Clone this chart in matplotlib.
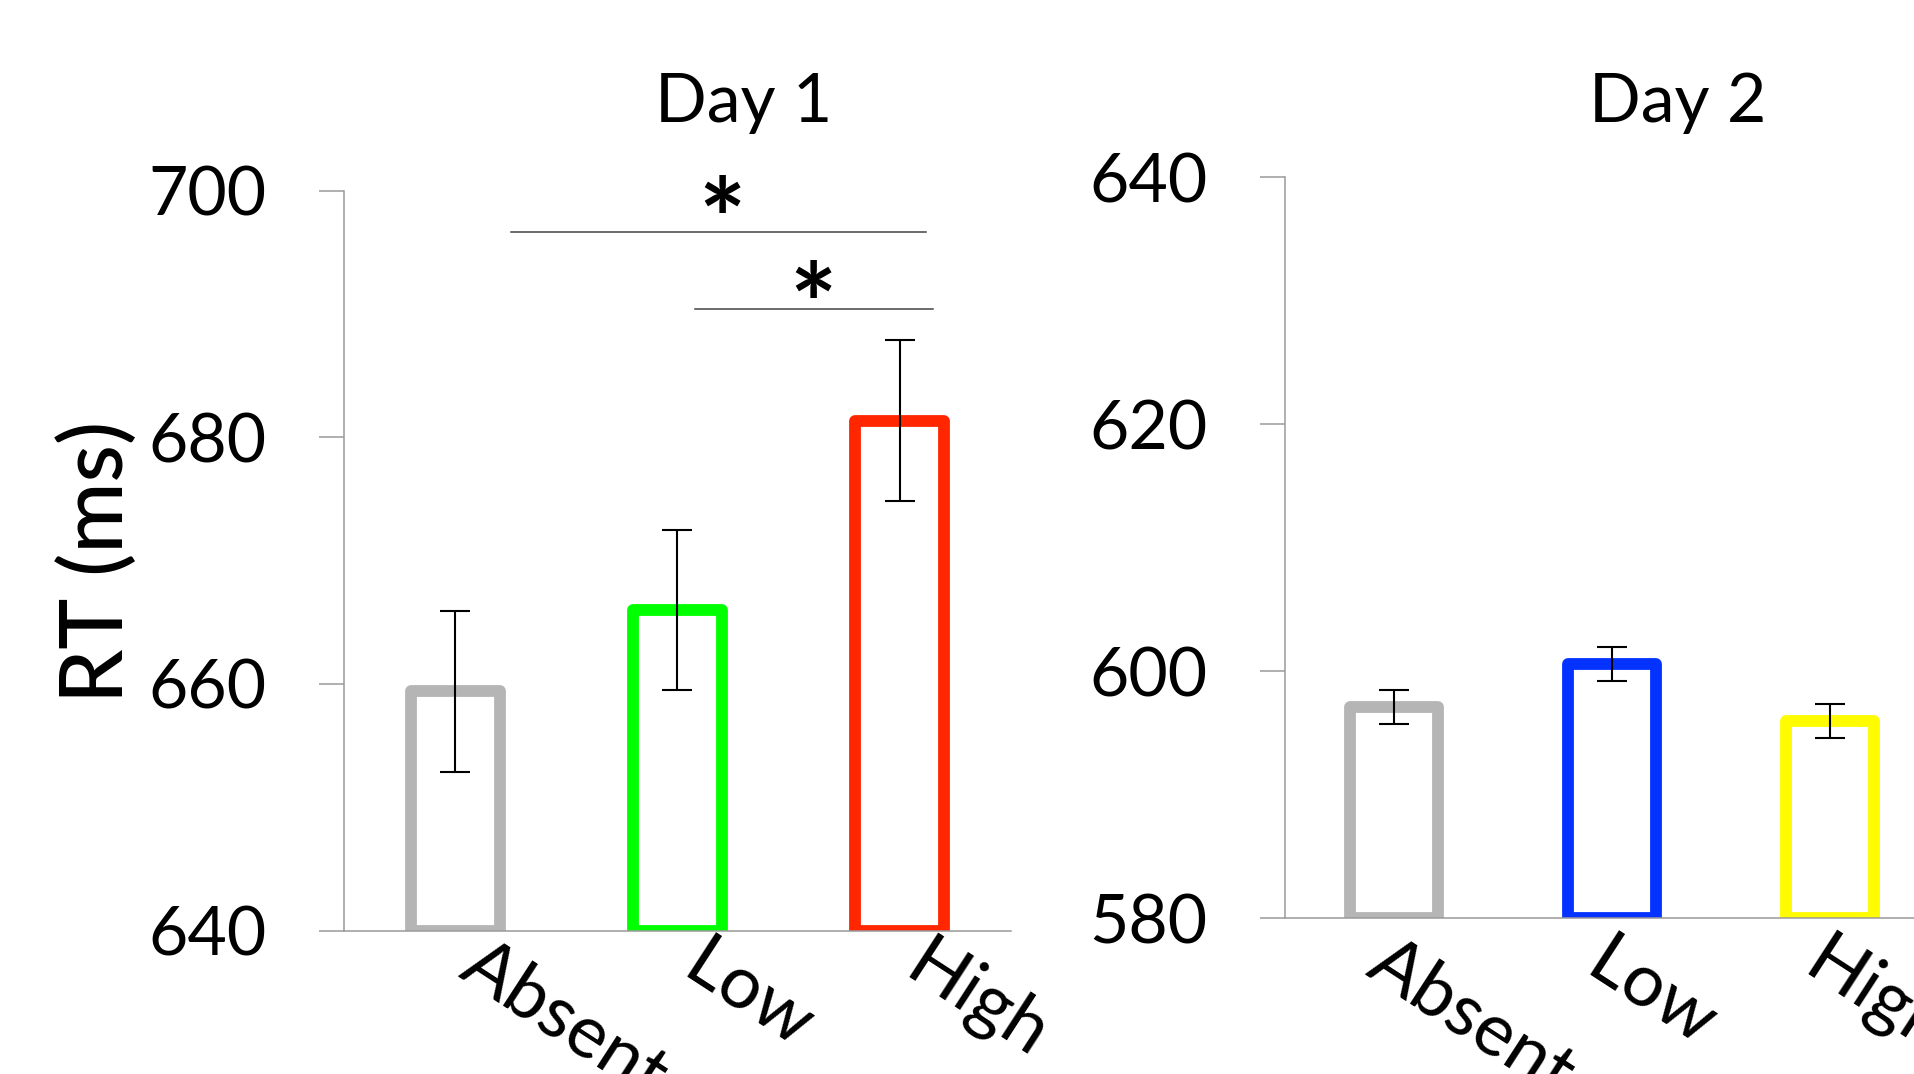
import matplotlib
matplotlib.use('Agg')
import matplotlib.pyplot as plt
import numpy as np

plt.rcParams['font.family'] = ['Lato', 'DejaVu Sans']

# 数据
conditions = ['Absent', 'Low', 'High']
day1_rt = [659.4, 666.0, 681.35]
day1_err = [6.5, 6.5, 6.5]
day2_rt = [597.1, 600.6, 596.0]
day2_err = [1.38, 1.36, 1.38]
day1_colors = ['#b5b5b5', '#00ff00', '#ff2600']
day2_colors = ['#b5b5b5', '#0433ff', '#fffb00']
day1_ticks = [640, 660, 680, 700]
day2_ticks = [580, 600, 620, 640]

# 显著性标记: (x起点, x终点, y)
sig_lines = [(0.25, 2.12, 696.6), (1.08, 2.15, 690.4)]
sig_stars = [(1.20, 697.0), (1.61, 690.1)]

axis_gray = '#9a9a9a'
fs = 49

fig = plt.figure(figsize=(19.15, 10.74), dpi=100)
ax1 = fig.add_axes([0.1796, 0.1335, 0.3483, 0.6891])
ax2 = fig.add_axes([0.6710, 0.1449, 0.3415, 0.6902])


def draw_panel(ax, values, errs, colors, ticks, title, title_pad,
               lab_dx, lab_pad):
    x = np.arange(len(values))
    lo = ticks[0]
    bars = ax.bar(x, np.array(values) - lo, bottom=lo, width=0.4,
                  fill=False, edgecolor=colors, linewidth=8.5)
    for b in bars:
        b.set_joinstyle('round')
    ax.errorbar(x, values, yerr=errs, fmt='none', ecolor='black',
                elinewidth=1.5, capsize=11, capthick=1.5)

    ax.set_xlim(-0.5, 2.5)
    ax.set_ylim(ticks[0], ticks[-1])
    ax.set_yticks(ticks)
    # 标签起点略偏右（x轴无刻度线）
    ax.set_xticks(x + lab_dx)
    ax.set_xticklabels(conditions, rotation=-33, ha='left', va='top',
                       rotation_mode='anchor', fontsize=53)

    for s in ['top', 'right']:
        ax.spines[s].set_visible(False)
    for s in ['left', 'bottom']:
        ax.spines[s].set_color(axis_gray)
        ax.spines[s].set_linewidth(1.1)
    ax.tick_params(axis='y', length=18, width=1.1, color=axis_gray,
                   pad=38, labelsize=fs)
    ax.tick_params(axis='x', length=0, pad=lab_pad)
    ax.set_title(title, x=0.6, pad=title_pad, fontsize=fs)


draw_panel(ax1, day1_rt, day1_err, day1_colors, day1_ticks, 'Day 1', 49,
           0.14, 0)
draw_panel(ax2, day2_rt, day2_err, day2_colors, day2_ticks, 'Day 2', 40,
           0.0, 7)

for x0, x1, y in sig_lines:
    ax1.plot([x0, x1], [y, y], color='#444444', linewidth=1.1)
for xs, ys in sig_stars:
    ax1.text(xs, ys, '*', ha='center', va='center', fontsize=80,
             fontweight='bold')

fig.text(0.051, 0.4767, 'RT (ms)', rotation=90, ha='center', va='center',
         fontsize=62, fontweight='medium')

plt.savefig('out.png', dpi=100)
